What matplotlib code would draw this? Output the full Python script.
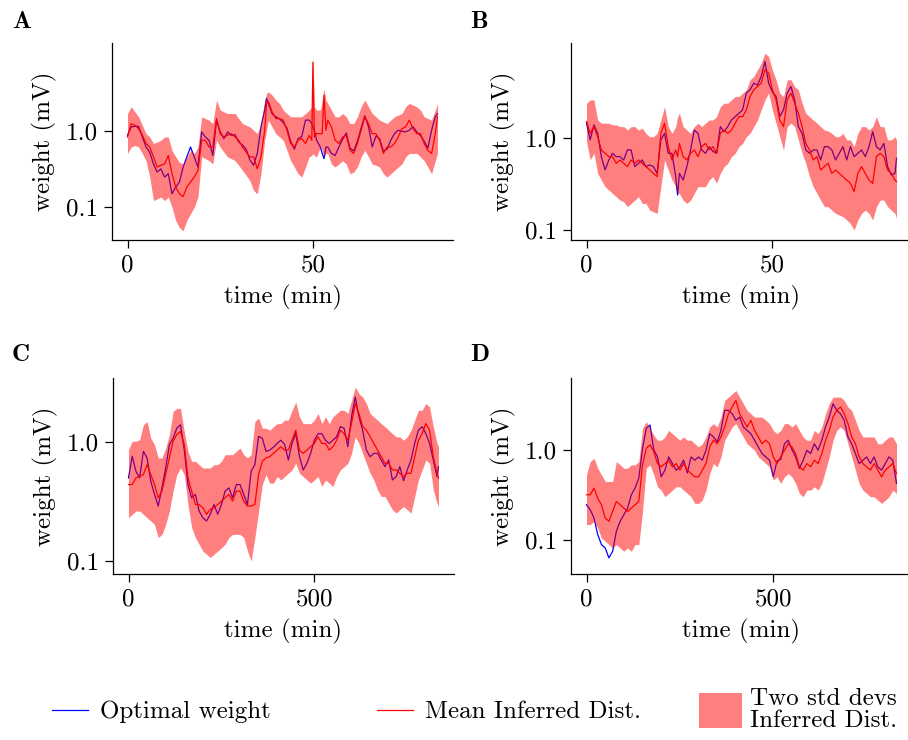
import matplotlib
matplotlib.use("Agg")
import matplotlib.pyplot as plt
from matplotlib.patches import Patch

plt.rcParams['font.family'] = 'cmr10'
plt.rcParams['mathtext.fontset'] = 'cm'
plt.rcParams['axes.formatter.use_mathtext'] = True
plt.rcParams['font.size'] = 18

# ---- panel A (time in min) ----
t_a = [0, 1, 2, 3, 4, 5, 6, 7, 8, 9,
       10, 11, 12, 13, 14, 15, 16, 17, 18, 19,
       20, 21, 22, 23, 24, 25, 26, 27, 28, 29,
       30, 31, 32, 33, 34, 35, 36, 37, 37.5, 38,
       39, 40, 41, 42, 43, 44, 45, 46, 47, 48,
       49, 49.7, 50, 50.4, 51, 52, 52.5, 53, 53.5, 54,
       55, 56, 57, 58, 59, 60, 61, 62, 63, 64,
       65, 66, 67, 68, 69, 70, 71, 72, 73, 74,
       75, 76, 77, 78, 79, 80, 81, 82, 83, 83.6]
opt_a = [0.885, 1.14, 1.16, 1.16, 0.84, 0.62, 0.53, 0.37, 0.29, 0.32,
         0.249, 0.276, 0.150, 0.184, 0.214, 0.338, 0.46, 0.62, 0.46, 0.338,
         0.98, 0.84, 0.76, 0.48, 1.40, 0.98, 0.80, 0.98, 0.88, 0.90,
         0.72, 0.66, 0.58, 0.42, 0.356, 0.51, 1.14, 1.90, 2.70, 2.32,
         1.70, 1.55, 1.45, 1.30, 1.10, 0.74, 0.58, 0.80, 0.85, 1.40,
         1.40, 1.26, 1.14, 1.03, 0.76, 0.62, 0.51, 0.435, 0.62, 0.62,
         0.51, 0.48, 0.62, 0.78, 0.95, 0.60, 0.55, 0.74, 1.10, 1.60,
         1.14, 0.62, 0.86, 0.80, 0.55, 0.58, 0.76, 0.93, 1.03, 1.00,
         0.98, 1.03, 1.15, 0.98, 0.88, 0.74, 0.60, 1.03, 1.55, 1.71]
mean_a = [0.84, 1.26, 1.20, 1.08, 0.885, 0.69, 0.62, 0.46, 0.338, 0.356,
          0.37, 0.48, 0.276, 0.184, 0.150, 0.138, 0.184, 0.214, 0.249, 0.305,
          0.76, 0.76, 0.62, 0.62, 1.47, 0.93, 0.84, 0.885, 0.93, 0.84,
          0.76, 0.62, 0.53, 0.46, 0.46, 0.32, 0.46, 1.03, 2.32, 2.44,
          1.80, 1.47, 1.47, 1.40, 1.03, 0.69, 0.62, 0.76, 0.80, 0.69,
          0.885, 0.76, 8.1, 0.84, 0.93, 0.93, 0.93, 2.99, 1.03, 1.40,
          1.14, 0.76, 0.69, 0.84, 0.885, 0.56, 0.51, 0.69, 1.03, 1.55,
          1.26, 0.93, 0.93, 0.76, 0.51, 0.62, 0.62, 0.69, 0.84, 1.08,
          1.14, 1.40, 1.08, 0.93, 0.93, 0.69, 0.56, 0.51, 0.93, 1.55]
hi_a = [1.71, 2.10, 1.80, 1.55, 1.20, 0.93, 0.84, 0.69, 0.72, 0.76,
        0.84, 0.84, 0.56, 0.46, 0.39, 0.37, 0.46, 0.56, 0.51, 0.62,
        1.55, 1.47, 1.40, 1.26, 2.57, 1.90, 1.80, 1.71, 1.71, 1.71,
        1.47, 1.26, 1.20, 1.14, 1.03, 0.93, 1.26, 2.57, 3.15, 3.31,
        2.99, 2.57, 2.32, 1.90, 1.71, 1.55, 1.55, 1.55, 1.55, 1.71,
        1.90, 2.10, 10.0, 2.10, 1.90, 1.90, 2.57, 3.6, 2.57, 2.32,
        1.90, 1.55, 1.55, 1.71, 1.55, 1.26, 1.26, 1.55, 2.10, 2.57,
        2.10, 1.71, 1.55, 1.40, 1.33, 1.26, 1.40, 1.55, 1.63, 1.71,
        2.10, 2.32, 2.21, 2.10, 1.90, 1.55, 1.47, 1.40, 1.90, 2.32]
lo_a = [0.51, 0.62, 0.65, 0.62, 0.51, 0.41, 0.249, 0.122, 0.129, 0.136,
        0.122, 0.136, 0.10, 0.067, 0.054, 0.049, 0.067, 0.082, 0.10, 0.136,
        0.46, 0.435, 0.41, 0.37, 0.76, 0.62, 0.53, 0.46, 0.435, 0.41,
        0.356, 0.305, 0.262, 0.225, 0.166, 0.150, 0.276, 0.76, 1.03, 1.40,
        1.14, 0.93, 0.84, 0.76, 0.56, 0.41, 0.338, 0.276, 0.249, 0.338,
        0.46, 0.48, 0.51, 0.48, 0.46, 0.62, 0.56, 0.46, 0.51, 0.51,
        0.37, 0.338, 0.37, 0.41, 0.37, 0.276, 0.29, 0.338, 0.46, 0.56,
        0.46, 0.37, 0.356, 0.338, 0.276, 0.249, 0.276, 0.305, 0.338, 0.37,
        0.46, 0.51, 0.51, 0.51, 0.46, 0.41, 0.338, 0.276, 0.41, 0.51]

# ---- panel B (time in min) ----
t_b = [0, 1, 2, 3, 4, 5, 6, 7, 8, 9,
       10, 11, 12, 13, 14, 15, 16, 17, 18, 19,
       20, 21, 22, 23, 24, 24.5, 25, 26, 27, 28,
       29, 30, 31, 32, 33, 34, 35, 36, 37, 38,
       39, 40, 41, 42, 43, 44, 45, 46, 47, 48,
       49, 50, 51, 52, 53, 54, 55, 56, 57, 58,
       59, 60, 61, 62, 63, 64, 65, 66, 67, 68,
       69, 70, 71, 72, 73, 74, 75, 76, 77, 78,
       79, 80, 81, 82, 83, 83.4]
opt_b = [1.46, 0.96, 1.40, 1.13, 0.631, 0.452, 0.58, 0.686, 0.631, 0.631,
         0.58, 0.746, 0.746, 0.491, 0.534, 0.58, 0.491, 0.512, 0.491, 0.415,
         0.96, 1.13, 0.686, 0.686, 0.382, 0.241, 0.415, 0.351, 0.491, 0.746,
         1.23, 1.13, 0.746, 0.686, 0.81, 0.72, 0.686, 1.34, 1.18, 1.34,
         1.58, 1.72, 1.87, 2.04, 3.10, 3.37, 3.98, 3.80, 4.71, 6.86,
         3.98, 3.20, 2.85, 1.72, 2.04, 3.10, 3.66, 2.62, 1.34, 1.13,
         0.746, 0.686, 0.746, 0.746, 0.58, 0.81, 0.81, 0.746, 0.58, 0.686,
         0.81, 0.58, 0.81, 0.631, 0.686, 0.746, 0.631, 0.81, 1.18, 0.81,
         0.746, 0.88, 0.491, 0.398, 0.415, 0.605]
mean_b = [1.52, 1.13, 1.34, 1.04, 0.746, 0.686, 0.631, 0.631, 0.534, 0.58,
          0.534, 0.491, 0.58, 0.534, 0.58, 0.534, 0.491, 0.452, 0.415, 0.382,
          1.13, 1.46, 0.81, 0.58, 0.746, 0.631, 0.88, 0.631, 0.58, 0.686,
          0.746, 0.631, 0.81, 0.88, 0.746, 0.81, 0.686, 1.13, 1.23, 1.13,
          1.23, 1.46, 1.72, 1.72, 2.04, 2.85, 3.37, 3.66, 3.98, 5.56,
          5.12, 3.37, 2.62, 1.58, 1.34, 2.62, 3.10, 2.41, 1.87, 1.34,
          0.88, 0.746, 0.58, 0.631, 0.452, 0.491, 0.534, 0.415, 0.452, 0.415,
          0.382, 0.351, 0.323, 0.262, 0.415, 0.491, 0.415, 0.351, 0.323, 0.631,
          0.686, 0.631, 0.452, 0.415, 0.351, 0.337]
hi_b = [2.41, 2.62, 2.62, 1.58, 1.46, 1.46, 1.46, 1.40, 1.40, 1.34,
        1.34, 1.23, 1.34, 1.34, 1.23, 1.29, 1.13, 1.04, 1.04, 1.13,
        1.58, 2.21, 1.34, 1.13, 1.34, 1.72, 1.87, 1.34, 1.23, 1.13,
        1.34, 1.46, 1.34, 1.46, 1.58, 1.58, 1.72, 2.21, 2.41, 2.41,
        2.62, 2.85, 2.85, 3.10, 3.37, 4.33, 4.71, 5.56, 6.58, 8.46,
        7.78, 5.56, 4.33, 3.10, 2.85, 4.33, 4.33, 3.66, 3.37, 2.41,
        1.87, 1.72, 1.58, 1.46, 1.34, 1.23, 1.20, 1.13, 1.04, 1.04,
        1.13, 0.96, 0.96, 0.81, 1.13, 1.34, 1.34, 1.23, 1.34, 1.72,
        1.34, 1.34, 0.96, 0.96, 1.04, 0.96]
lo_b = [0.92, 0.58, 0.686, 0.415, 0.351, 0.297, 0.273, 0.251, 0.231, 0.212,
        0.204, 0.180, 0.195, 0.212, 0.231, 0.195, 0.195, 0.165, 0.158, 0.152,
        0.297, 0.58, 0.452, 0.351, 0.297, 0.251, 0.251, 0.212, 0.195, 0.212,
        0.251, 0.297, 0.297, 0.297, 0.351, 0.382, 0.323, 0.415, 0.491, 0.534,
        0.631, 0.686, 0.81, 0.88, 1.04, 1.13, 1.34, 1.58, 2.04, 2.62,
        3.10, 2.04, 1.46, 1.04, 0.746, 1.34, 1.46, 1.34, 0.96, 0.686,
        0.534, 0.382, 0.297, 0.251, 0.212, 0.180, 0.180, 0.165, 0.152, 0.146,
        0.140, 0.129, 0.118, 0.10, 0.129, 0.152, 0.165, 0.152, 0.129, 0.180,
        0.212, 0.212, 0.180, 0.165, 0.152, 0.134]

# ---- panel C (time in min) ----
t_c = [0, 10, 20, 30, 40, 50, 60, 70, 80, 90,
       100, 110, 120, 130, 140, 150, 160, 170, 180, 190,
       200, 210, 220, 230, 240, 250, 260, 270, 280, 290,
       300, 310, 320, 330, 340, 350, 360, 370, 380, 390,
       400, 410, 420, 430, 440, 450, 460, 470, 480, 490,
       500, 510, 520, 530, 540, 550, 560, 570, 580, 590,
       600, 610, 620, 630, 640, 650, 660, 670, 680, 690,
       700, 710, 720, 730, 740, 750, 760, 770, 780, 790,
       800, 810, 820, 830, 834]
opt_c = [0.496, 0.754, 0.564, 0.496, 0.830, 0.730, 0.465, 0.360, 0.287, 0.409,
         0.601, 0.944, 1.07, 1.30, 1.39, 0.857, 0.436, 0.337, 0.360, 0.261,
         0.229, 0.215, 0.245, 0.296, 0.245, 0.296, 0.384, 0.409, 0.337, 0.436,
         0.436, 0.360, 0.296, 0.564, 0.641, 1.11, 1.07, 0.830, 0.85, 0.90,
         0.968, 1.03, 0.95, 0.702, 0.968, 1.17, 0.75, 0.579, 0.658, 0.80,
         1.03, 1.17, 1.17, 1.03, 0.968, 1.03, 1.10, 1.34, 1.30, 0.908,
         1.62, 2.38, 1.62, 1.25, 0.851, 0.748, 0.798, 0.80, 0.70, 0.617,
         0.702, 0.477, 0.509, 0.617, 0.47, 0.579, 0.702, 0.968, 1.25, 1.34,
         1.17, 0.968, 0.702, 0.509, 0.617]
mean_c = [0.436, 0.436, 0.496, 0.512, 0.529, 0.641, 0.529, 0.436, 0.337, 0.384,
          0.529, 0.730, 1.01, 1.15, 1.22, 0.944, 0.496, 0.384, 0.296, 0.296,
          0.278, 0.245, 0.27, 0.278, 0.296, 0.316, 0.337, 0.360, 0.316, 0.384,
          0.384, 0.316, 0.287, 0.287, 0.296, 0.529, 0.684, 0.730, 0.748, 0.798,
          0.851, 0.908, 0.851, 0.851, 1.03, 1.25, 0.851, 0.798, 0.851, 0.908,
          0.968, 1.10, 0.968, 0.968, 0.851, 0.908, 1.03, 1.25, 1.17, 1.03,
          1.42, 2.10, 1.73, 1.34, 1.25, 1.10, 0.968, 0.851, 0.748, 0.658,
          0.658, 0.579, 0.579, 0.543, 0.509, 0.543, 0.543, 0.748, 1.03, 1.17,
          1.42, 1.25, 0.748, 0.543, 0.493]
hi_c = [0.857, 1.01, 1.01, 1.04, 1.39, 1.48, 1.07, 0.944, 0.730, 0.730,
        0.885, 1.15, 1.80, 1.91, 1.91, 1.22, 0.830, 0.684, 0.684, 0.641,
        0.601, 0.601, 0.601, 0.641, 0.641, 0.684, 0.778, 0.778, 0.778, 0.830,
        0.885, 0.778, 0.730, 0.778, 1.48, 1.58, 1.30, 1.30, 1.25, 1.34,
        1.42, 1.42, 1.52, 1.52, 1.84, 2.16, 1.62, 1.42, 1.42, 1.42,
        1.52, 1.73, 1.42, 1.62, 1.42, 1.62, 1.73, 1.84, 1.84, 1.73,
        2.23, 2.89, 2.54, 2.38, 2.10, 1.73, 1.62, 1.52, 1.42, 1.34,
        1.25, 1.17, 1.10, 1.10, 1.03, 1.10, 1.25, 1.52, 1.84, 1.84,
        2.10, 1.96, 1.34, 0.968, 0.908]
lo_c = [0.229, 0.245, 0.261, 0.261, 0.245, 0.229, 0.215, 0.201, 0.156, 0.166,
        0.201, 0.261, 0.384, 0.529, 0.601, 0.529, 0.296, 0.189, 0.156, 0.137,
        0.120, 0.113, 0.106, 0.113, 0.120, 0.128, 0.137, 0.156, 0.166, 0.166,
        0.166, 0.156, 0.120, 0.099, 0.156, 0.261, 0.436, 0.529, 0.448, 0.448,
        0.509, 0.477, 0.509, 0.543, 0.579, 0.658, 0.543, 0.509, 0.477, 0.448,
        0.477, 0.509, 0.42, 0.477, 0.448, 0.42, 0.509, 0.579, 0.617, 0.658,
        0.798, 1.10, 0.968, 0.798, 0.658, 0.543, 0.477, 0.394, 0.346, 0.346,
        0.304, 0.268, 0.251, 0.268, 0.285, 0.268, 0.251, 0.346, 0.477, 0.579,
        0.702, 0.658, 0.394, 0.304, 0.285]

# ---- panel D (time in min) ----
t_d = [0, 10, 20, 30, 40, 50, 60, 70, 80, 90,
       100, 110, 120, 130, 140, 150, 160, 170, 180, 190,
       200, 210, 220, 230, 240, 250, 260, 270, 280, 290,
       300, 310, 320, 330, 340, 350, 360, 370, 380, 390,
       400, 410, 420, 430, 440, 450, 460, 470, 480, 490,
       500, 510, 520, 530, 540, 550, 560, 570, 580, 590,
       600, 610, 620, 630, 640, 650, 660, 670, 680, 690,
       700, 710, 720, 730, 740, 750, 760, 770, 780, 790,
       800, 810, 820, 830]
opt_d = [0.245, 0.216, 0.175, 0.115, 0.0889, 0.0816, 0.0633, 0.075, 0.125, 0.161,
         0.190, 0.225, 0.316, 0.375, 0.483, 1.03, 1.72, 1.87, 1.00, 0.830,
         0.500, 0.592, 0.830, 0.701, 0.592, 0.644, 0.763, 0.55, 0.830, 0.763,
         0.830, 0.763, 0.983, 1.50, 1.38, 1.22, 1.63, 2.72, 2.72, 2.49,
         2.11, 2.29, 1.78, 1.63, 1.50, 1.27, 1.07, 0.903, 0.830, 0.763,
         0.50, 0.75, 0.78, 1.16, 1.27, 1.00, 0.830, 0.62, 0.76, 0.983,
         0.903, 1.16, 0.983, 1.27, 1.78, 2.29, 3.22, 2.72, 2.49, 2.11,
         1.38, 1.16, 0.903, 0.701, 0.763, 0.830, 0.701, 0.830, 0.644, 0.592,
         0.701, 0.830, 0.763, 0.422]
mean_d = [0.316, 0.316, 0.375, 0.290, 0.245, 0.175, 0.161, 0.207, 0.267, 0.245,
          0.225, 0.207, 0.225, 0.245, 0.267, 0.678, 1.03, 1.13, 0.951, 0.701,
          0.644, 0.701, 0.763, 0.644, 0.701, 0.592, 0.701, 0.592, 0.544, 0.500,
          0.500, 0.592, 0.701, 1.07, 1.27, 1.16, 1.38, 1.78, 2.49, 2.96,
          3.50, 2.49, 2.11, 1.78, 2.11, 1.63, 1.38, 1.16, 1.27, 1.16,
          0.830, 0.701, 0.830, 0.983, 1.16, 1.07, 0.903, 0.644, 0.592, 0.701,
          0.644, 0.763, 0.701, 0.903, 1.27, 1.63, 2.29, 2.72, 2.96, 2.49,
          1.94, 1.38, 1.16, 0.830, 0.701, 0.644, 0.592, 0.701, 0.592, 0.500,
          0.592, 0.644, 0.701, 0.544]
hi_d = [0.526, 0.738, 0.802, 0.622, 0.526, 0.444, 0.444, 0.444, 0.738, 0.678,
        0.622, 0.622, 0.678, 0.678, 0.738, 1.72, 2.04, 1.72, 1.45, 1.27,
        1.27, 1.38, 1.63, 1.50, 1.38, 1.27, 1.38, 1.27, 1.27, 1.16,
        1.07, 1.16, 1.38, 1.78, 1.94, 1.78, 2.29, 3.50, 3.81, 4.15,
        4.51, 3.81, 3.22, 2.72, 2.49, 2.29, 2.29, 2.29, 2.11, 1.94,
        1.63, 1.50, 1.63, 1.94, 1.94, 1.78, 1.94, 1.63, 1.38, 1.27,
        1.27, 1.63, 1.50, 1.78, 2.49, 3.22, 3.81, 3.81, 3.81, 3.50,
        2.96, 2.72, 2.11, 1.63, 1.38, 1.38, 1.38, 1.38, 1.16, 1.16,
        1.27, 1.38, 1.38, 1.16]
lo_d = [0.148, 0.148, 0.161, 0.136, 0.105, 0.097, 0.0889, 0.0816, 0.0889, 0.0816,
        0.075, 0.0816, 0.075, 0.0889, 0.0889, 0.207, 0.622, 0.678, 0.526, 0.388,
        0.356, 0.301, 0.327, 0.356, 0.388, 0.388, 0.356, 0.327, 0.301, 0.254,
        0.254, 0.276, 0.356, 0.544, 0.701, 0.644, 0.830, 1.27, 1.50, 1.78,
        1.94, 1.63, 1.38, 1.16, 1.07, 0.983, 0.830, 0.763, 0.701, 0.644,
        0.459, 0.500, 0.422, 0.500, 0.544, 0.500, 0.422, 0.327, 0.301, 0.356,
        0.356, 0.388, 0.356, 0.422, 0.592, 0.830, 1.27, 1.63, 1.78, 1.63,
        1.16, 0.830, 0.592, 0.422, 0.356, 0.327, 0.301, 0.301, 0.276, 0.254,
        0.276, 0.301, 0.356, 0.327]

panel_labels = ['A', 'B', 'C', 'D']
ylims = [(0.037, 14.5), (0.078, 10.9), (0.077, 3.44), (0.042, 6.2)]
xticks = [[0, 50], [0, 50], [0, 500], [0, 500]]
yticks = [0.1, 1.0]
ytick_labels = ['0.1', '1.0']
legend_labels = ['Optimal weight', 'Mean Inferred Dist.', 'Two std devs\nInferred Dist.']

panels = [(t_a, opt_a, mean_a, lo_a, hi_a),
          (t_b, opt_b, mean_b, lo_b, hi_b),
          (t_c, opt_c, mean_c, lo_c, hi_c),
          (t_d, opt_d, mean_d, lo_d, hi_d)]

W, H = 908, 740
fig = plt.figure(figsize=(9.08, 7.4), dpi=100)
# axes boxes in pixels: left, top, width, height
boxes = [(112, 43, 341, 197), (571, 43, 341, 197),
         (113, 378, 341, 196), (571, 378, 341, 196)]
letter_pos = [(12, 28), (470, 28), (12, 361), (470, 361)]

for i, (t, opt, mean, lo, hi) in enumerate(panels):
    l, tp, w, h = boxes[i]
    ax = fig.add_axes([l / W, 1 - (tp + h) / H, w / W, h / H])
    # blue under the translucent band -> shows purple where covered
    blue, = ax.plot(t, opt, color='#0000ff', lw=0.9, zorder=1)
    band = ax.fill_between(t, lo, hi, color='#ff0000', alpha=0.5, lw=0, zorder=2)
    red, = ax.plot(t, mean, color='#ff0000', lw=0.9, zorder=3)
    ax.set_yscale('log')
    ax.set_ylim(*ylims[i])
    ax.set_yticks(yticks)
    ax.set_yticklabels(ytick_labels)
    ax.yaxis.set_minor_locator(matplotlib.ticker.NullLocator())
    ax.set_xticks(xticks[i])
    ax.set_xticklabels([str(v) for v in xticks[i]])
    ax.margins(x=0.05)
    for s in ['top', 'right']:
        ax.spines[s].set_visible(False)
    for s in ['left', 'bottom']:
        ax.spines[s].set_linewidth(0.9)
    ax.tick_params(direction='out', length=6, width=0.9, pad=4, labelsize=18)
    ax.set_xlabel('time (min)', fontsize=18)
    ax.set_ylabel('weight (mV)', fontsize=18)
    ax.xaxis.set_label_coords(0.5, -0.23)
    ax.yaxis.set_label_coords(-0.162, 0.5)
    lx, ly = letter_pos[i]
    fig.text(lx / W, 1 - ly / H, panel_labels[i], family='cmb10',
             fontsize=18, va='baseline', ha='left')

handle_list = [blue, red, Patch(color='#ff0000', alpha=0.5, lw=0)]
leg_x = [52, 377, 699]
leg_y = [712, 712, 710]
for j in range(3):
    hl = 1.72 if j == 2 else 1.44
    leg = fig.legend([handle_list[j]], [legend_labels[j]], loc='center left',
                     bbox_to_anchor=(leg_x[j] / W, 1 - leg_y[j] / H),
                     frameon=False, borderpad=0, borderaxespad=0,
                     handlelength=hl, handleheight=1.8 if j == 2 else 0.7,
                     handletextpad=0.32 if j == 2 else 0.48, fontsize=18)
    for txt in leg.get_texts():
        txt.set_linespacing(1.0)

fig.savefig('out.png', dpi=100)
